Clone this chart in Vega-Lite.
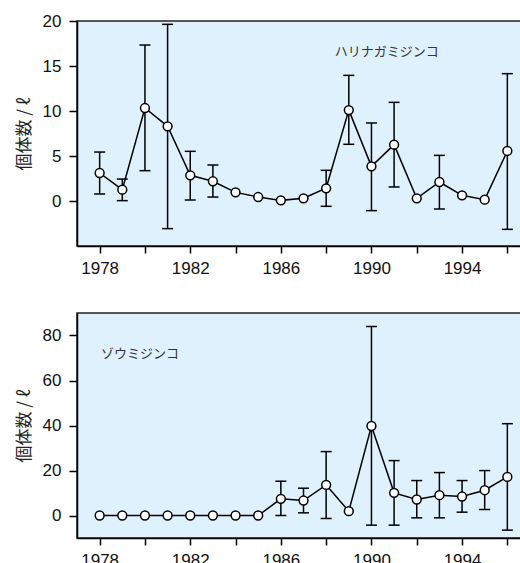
{
  "$schema": "https://vega.github.io/schema/vega-lite/v6.json",
  "padding": {"left": 14, "top": 11, "right": 0, "bottom": 0},
  "spacing": 35,
  "config": {
    "view": {"fill": "#dff1fc", "stroke": "#222", "strokeWidth": 1.5},
    "axis": {
      "grid": false,
      "domainColor": "#000",
      "domainWidth": 1.5,
      "tickColor": "#000",
      "tickWidth": 1.5,
      "labelFont": "Liberation Sans",
      "labelFontSize": 17,
      "labelColor": "#111",
      "titleFont": "Noto Sans CJK JP",
      "titleFontSize": 17,
      "titleFontWeight": "normal",
      "titleColor": "#222"
    }
  },
  "datasets": {
    "harinaga": [
      {"year": 1978, "mean": 3.11, "lo": 0.78, "hi": 5.44},
      {"year": 1979, "mean": 1.26, "lo": 0.04, "hi": 2.44},
      {"year": 1980, "mean": 10.33, "lo": 3.37, "hi": 17.33},
      {"year": 1981, "mean": 8.3, "lo": -3.07, "hi": 19.63},
      {"year": 1982, "mean": 2.85, "lo": 0.11, "hi": 5.52},
      {"year": 1983, "mean": 2.19, "lo": 0.44, "hi": 4.0},
      {"year": 1984, "mean": 0.96, "lo": null, "hi": null},
      {"year": 1985, "mean": 0.44, "lo": null, "hi": null},
      {"year": 1986, "mean": 0.07, "lo": null, "hi": null},
      {"year": 1987, "mean": 0.3, "lo": null, "hi": null},
      {"year": 1988, "mean": 1.41, "lo": -0.59, "hi": 3.41},
      {"year": 1989, "mean": 10.1, "lo": 6.3, "hi": 13.96},
      {"year": 1990, "mean": 3.85, "lo": -1.07, "hi": 8.67},
      {"year": 1991, "mean": 6.26, "lo": 1.56, "hi": 10.96},
      {"year": 1992, "mean": 0.3, "lo": null, "hi": null},
      {"year": 1993, "mean": 2.11, "lo": -0.89, "hi": 5.07},
      {"year": 1994, "mean": 0.63, "lo": null, "hi": null},
      {"year": 1995, "mean": 0.15, "lo": null, "hi": null},
      {"year": 1996, "mean": 5.56, "lo": -3.15, "hi": 14.15}
    ],
    "zou": [
      {"year": 1978, "mean": 0, "lo": null, "hi": null},
      {"year": 1979, "mean": 0, "lo": null, "hi": null},
      {"year": 1980, "mean": 0, "lo": null, "hi": null},
      {"year": 1981, "mean": 0, "lo": null, "hi": null},
      {"year": 1982, "mean": 0, "lo": null, "hi": null},
      {"year": 1983, "mean": 0, "lo": null, "hi": null},
      {"year": 1984, "mean": 0, "lo": null, "hi": null},
      {"year": 1985, "mean": 0, "lo": null, "hi": null},
      {"year": 1986, "mean": 7.39, "lo": 0, "hi": 15.23},
      {"year": 1987, "mean": 6.65, "lo": 1.18, "hi": 12.13},
      {"year": 1988, "mean": 13.6, "lo": -1.33, "hi": 28.4},
      {"year": 1989, "mean": 1.92, "lo": null, "hi": null},
      {"year": 1990, "mean": 39.78, "lo": -4.29, "hi": 84.0},
      {"year": 1991, "mean": 10.06, "lo": -4.29, "hi": 24.4},
      {"year": 1992, "mean": 7.1, "lo": -1.04, "hi": 15.53},
      {"year": 1993, "mean": 9.02, "lo": -1.04, "hi": 19.08},
      {"year": 1994, "mean": 8.43, "lo": 1.48, "hi": 15.53},
      {"year": 1995, "mean": 11.24, "lo": 2.66, "hi": 19.96},
      {"year": 1996, "mean": 17.15, "lo": -6.5, "hi": 40.8}
    ]
  },
  "vconcat": [
    {
      "width": 453,
      "height": 225,
      "data": {"name": "harinaga"},
      "encoding": {
        "x": {
          "field": "year", "type": "quantitative",
          "scale": {"domain": [1977, 1997], "nice": false, "zero": false},
          "axis": {
            "title": null,
            "values": [1978, 1980, 1982, 1984, 1986, 1988, 1990, 1992, 1994, 1996],
            "labelExpr": "(datum.value - 1978) % 4 == 0 ? datum.value : ''",
            "tickSize": 7, "labelPadding": 7, "labelFlush": false, "labelOverlap": false
          }
        }
      },
      "layer": [
        {
          "transform": [{"filter": "datum.lo != null"}],
          "mark": {"type": "rule", "color": "#000", "strokeWidth": 1.5},
          "encoding": {
            "y": {"field": "lo", "type": "quantitative"},
            "y2": {"field": "hi"}
          }
        },
        {
          "transform": [{"filter": "datum.lo != null"}],
          "mark": {"type": "tick", "orient": "horizontal", "color": "#000", "size": 11, "thickness": 1.5, "opacity": 1},
          "encoding": {"y": {"field": "lo", "type": "quantitative"}}
        },
        {
          "transform": [{"filter": "datum.lo != null"}],
          "mark": {"type": "tick", "orient": "horizontal", "color": "#000", "size": 11, "thickness": 1.5, "opacity": 1},
          "encoding": {"y": {"field": "hi", "type": "quantitative"}}
        },
        {
          "mark": {"type": "line", "color": "#000", "strokeWidth": 1.5},
          "encoding": {
            "y": {
              "field": "mean", "type": "quantitative",
              "scale": {"domain": [-5, 20], "nice": false, "zero": false},
              "axis": {
                "title": "個体数 / ℓ",
                "values": [0, 5, 10, 15, 20],
                "tickSize": 8, "labelPadding": 8, "titlePadding": 9, "labelFlush": false
              }
            }
          }
        },
        {
          "mark": {"type": "point", "shape": "circle", "filled": true, "fill": "#fff", "stroke": "#000", "strokeWidth": 1.5, "size": 78, "opacity": 1},
          "encoding": {"y": {"field": "mean", "type": "quantitative"}}
        },
        {
          "data": {"values": [{"year": 1990.67, "value": 16.52, "label": "ハリナガミジンコ"}]},
          "mark": {"type": "text", "font": "Noto Sans CJK JP", "fontSize": 13, "color": "#333", "align": "center", "baseline": "middle"},
          "encoding": {
            "y": {"field": "value", "type": "quantitative"},
            "text": {"field": "label"}
          }
        }
      ],
      "resolve": {"scale": {"y": "shared"}}
    },
    {
      "width": 453,
      "height": 225,
      "data": {"name": "zou"},
      "encoding": {
        "x": {
          "field": "year", "type": "quantitative",
          "scale": {"domain": [1977, 1997], "nice": false, "zero": false},
          "axis": {
            "title": null,
            "values": [1978, 1980, 1982, 1984, 1986, 1988, 1990, 1992, 1994, 1996],
            "labelExpr": "(datum.value - 1978) % 4 == 0 ? datum.value : ''",
            "tickSize": 7, "labelPadding": 7, "labelFlush": false, "labelOverlap": false
          }
        }
      },
      "layer": [
        {
          "transform": [{"filter": "datum.lo != null"}],
          "mark": {"type": "rule", "color": "#000", "strokeWidth": 1.5},
          "encoding": {
            "y": {"field": "lo", "type": "quantitative"},
            "y2": {"field": "hi"}
          }
        },
        {
          "transform": [{"filter": "datum.lo != null"}],
          "mark": {"type": "tick", "orient": "horizontal", "color": "#000", "size": 11, "thickness": 1.5, "opacity": 1},
          "encoding": {"y": {"field": "lo", "type": "quantitative"}}
        },
        {
          "transform": [{"filter": "datum.lo != null"}],
          "mark": {"type": "tick", "orient": "horizontal", "color": "#000", "size": 11, "thickness": 1.5, "opacity": 1},
          "encoding": {"y": {"field": "hi", "type": "quantitative"}}
        },
        {
          "mark": {"type": "line", "color": "#000", "strokeWidth": 1.5},
          "encoding": {
            "y": {
              "field": "mean", "type": "quantitative",
              "scale": {"domain": [-10, 90], "nice": false, "zero": false},
              "axis": {
                "title": "個体数 / ℓ",
                "values": [0, 20, 40, 60, 80],
                "tickSize": 8, "labelPadding": 8, "titlePadding": 9, "labelFlush": false
              }
            }
          }
        },
        {
          "mark": {"type": "point", "shape": "circle", "filled": true, "fill": "#fff", "stroke": "#000", "strokeWidth": 1.5, "size": 78, "opacity": 1},
          "encoding": {"y": {"field": "mean", "type": "quantitative"}}
        },
        {
          "data": {"values": [{"year": 1978.06, "value": 71.9, "label": "ゾウミジンコ"}]},
          "mark": {"type": "text", "font": "Noto Sans CJK JP", "fontSize": 13, "color": "#333", "align": "left", "baseline": "middle"},
          "encoding": {
            "y": {"field": "value", "type": "quantitative"},
            "text": {"field": "label"}
          }
        }
      ],
      "resolve": {"scale": {"y": "shared"}}
    }
  ]
}
